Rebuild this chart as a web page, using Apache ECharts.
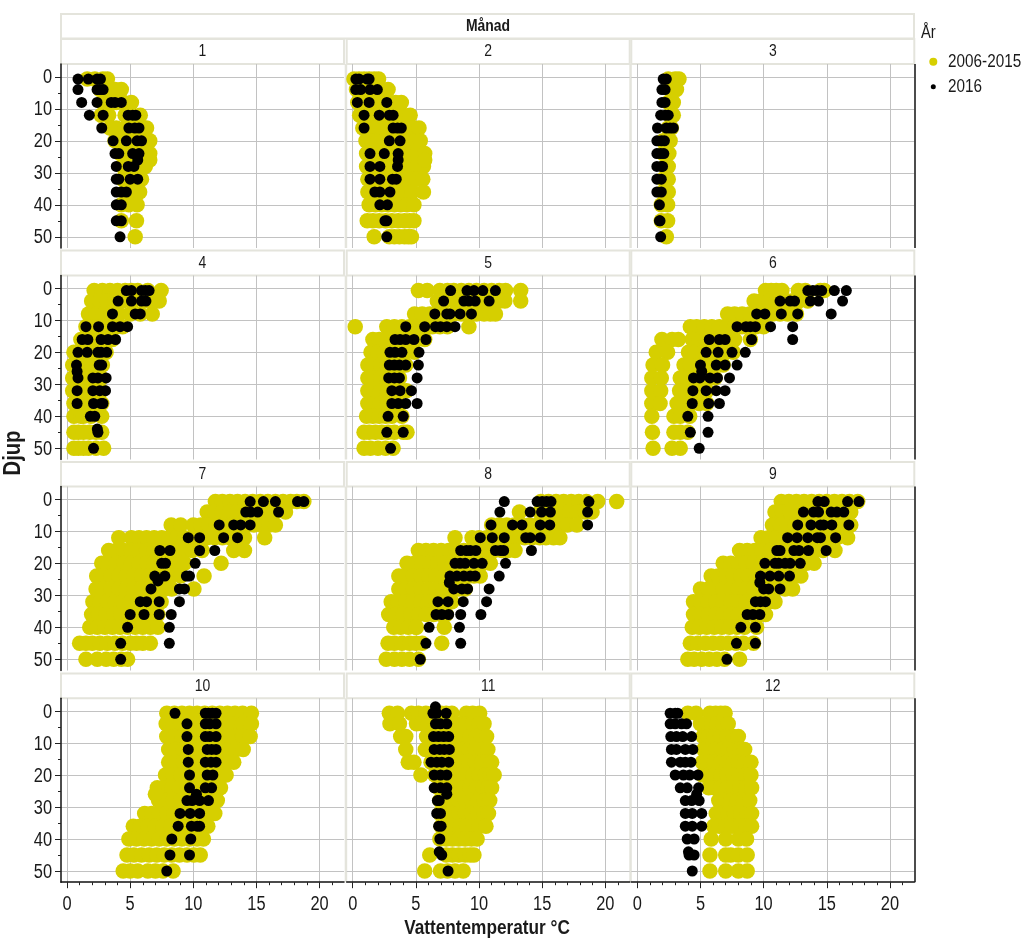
<!DOCTYPE html>
<html><head><meta charset="utf-8">
<style>html,body{margin:0;padding:0;background:#fff}#c{width:1024px;height:943px}</style>
<script src="https://cdn.jsdelivr.net/npm/echarts@6/dist/echarts.min.js"></script>
</head><body><div id="c"></div>
<script>
const depths=[0.7,4,8,12,16,20,24,28,32,36,40,45,50];
const xTicks=[0,5,10,15,20];
const yTicks=[0,10,20,30,40,50];
const xMinor=[1,2,3,4,6,7,8,9,11,12,13,14,16,17,18,19,21];
const yMinor=[5,15,25,35,45];
const months=['1','2','3','4','5','6','7','8','9','10','11','12'];
const seriesNames=['2006-2015','2016'];

const hist1=[[1.6,2.2,2.85,3.2],[2.6,3.1,3.8,4.3],[2.85,3.4,3.9,4.5,5.1],[2.7,3.3,4.6,5.2,5.8],[3.4,3.9,4.6,5.2,5.8,6.3],[3.8,4.4,5,5.5,6,6.55],[4.2,4.8,5.3,5.9,6.55],[4.4,4.9,5.3,5.8,6.2],[4.4,4.9,5.4,5.9],[4.6,5.2,5.75],[4.3,4.9,5.55],[4.3,5.5],[5.4]];
const now1=[[0.87,1.69,2.38,2.65],[0.87,2.38,2.6,2.86],[1.16,2.38,3.5,3.8,4.3],[1.77,2.86,4.84,5.2,5.45],[2.75,4.9,5.37,5.7],[3.65,4.7,5.55,5.9],[3.8,4.1,5.2,5.7],[3.9,4.85,5.3],[3.9,4.1,5,5.6],[3.9,4.3,4.7],[3.9,4.3],[3.9,4.3],[4.2]];
const hist2=[[0.1,0.5,0.9,1.3,1.7,2.05],[0.3,0.8,1.3,1.8,2.3,2.8],[0.4,0.9,1.4,1.9,2.4,2.9,3.4,3.85],[0.55,1,1.5,2,2.5,3,3.5,4,4.55],[0.8,1.3,1.8,2.3,2.8,3.3,3.8,4.3,4.8,5.25],[1.05,1.5,2,2.5,3,3.5,4,4.5,5,5.35],[1.1,1.6,2.1,2.6,3.1,3.6,4.1,4.6,5.1,5.7],[1.1,1.6,2.1,2.6,3.1,3.6,4.1,4.6,5.1,5.6],[1.2,1.7,2.2,2.7,3.2,3.7,4.2,4.7,5.1,5.55],[1.2,1.7,2.2,2.7,3.2,3.7,4.2,4.7,5.6],[1.3,1.8,2.3,2.8,3.3,3.8,4.3,4.85],[1.15,1.6,2.1,2.6,3.1,3.6,4.1,4.5,4.85],[1.7,2.9,3.3,3.7,4.1,4.4,4.65]];
const now2=[[0.25,0.5,1.15,1.3],[0.24,0.63,1.37,1.95],[0.37,1.3,2.7],[0.9,2.1,2.9,3.2],[0.9,3.2,3.55,3.85],[2.9,3.75],[1.37,2.5,3.6],[1.37,2.15,3.55],[1.37,2.15,3.15,3.45],[1.75,2.15,2.95],[2.15,2.75],[2.55,2.7],[2.7]];
const hist3=[[2.45,3,3.3],[2.6,3.1],[2.45,2.85],[2.6,2.85],[2.45,2.7],[2.05,2.6],[2.05,2.5],[2.2,2.45],[2.05,2.45],[2.05,2.45],[1.9,2.4],[1.9,2.4],[2.3]];
const now3=[[2.05,2.3],[1.95,2.2],[1.95,2.2],[1.85,2.2,2.45],[1.6,2.3,2.6,2.85],[1.55,1.9,2.15],[1.55,1.85,2.1],[1.55,1.9,2],[1.55,1.9],[1.55,1.9],[1.75],[1.75,1.8],[1.85]];
const hist4=[[2.15,2.8,3.4,4,4.6,5.1,5.6,6.4,7.45],[1.95,2.6,3.2,3.8,4.4,5.2,6.1,6.7,7.3],[1.7,2.3,2.9,3.5,4.1,5,5.8,6.75],[1.5,2.1,2.7,3.3,3.9,4.4],[1.1,1.6,2.2,2.8,3.3,3.6],[0.55,1.1,1.6,2.1,2.6,3.1],[0.45,1,1.5,2,2.4,2.8],[0.45,1,1.5,2,2.4,2.7],[0.45,0.9,1.5,2.1,2.7],[0.55,1.1,1.6,2.2,2.75],[0.55,1.1,1.3,1.9,2.75],[0.55,0.9,1.3,1.8,2.3,2.75],[0.55,0.9,1.3,1.7,2.3,2.9]];
const now4=[[4.7,5.1,5.9,6.2,6.5],[4.05,5.1,5.9,6.25],[3.6,5.4,5.8],[1.5,2.5,3.6,4.2,4.8],[1.2,1.65,2.7,3.25,3.85],[0.87,1.6,2.45,2.7,3.15],[0.75,2.55,2.75],[0.87,2.05,2.45,3.1],[0.8,2.05,2.6,3.05],[0.8,2.1,2.7,2.85],[1.85,2.2],[2.45],[2.1]];
const hist5=[[5.2,5.9,6.9,7.5,8,8.6,9.2,9.8,10.4,11,11.6,12.1,13.3],[6.7,7.3,8,8.6,9.2,9.8,10.4,11,11.6,12.05,13.3],[4.9,5.5,6.1,6.7,7.3,8,8.6,9.2,9.8,10.4,10.9,11.3],[0.2,2.7,3.3,3.9,4.5,5.1,5.7,6.3,6.9,7.5,9.2],[1.6,2.1,2.7,3.3,3.9,4.5,5.1,5.7],[1.45,2,2.5,3,3.6,4.2,4.9],[1.2,1.7,2.2,2.7,3.2,3.7,4.2],[1.2,1.7,2.2,2.7,3.2,3.7],[1.2,1.7,2.2,2.7,3.2,3.7,4.25],[1.2,1.7,2.2,2.7,3.1,3.6],[1.1,1.6,2.1,2.6,3.1,3.9],[0.9,1.3,1.8,2.3,2.8,3.3,4,4.3],[0.9,1.4,2,2.6,3.2]];
const now5=[[7.75,9.05,9.6,10.3,11.3],[7.2,8.8,9.2,9.7,10.8],[6.5,7.45,7.7,8.5,9.4],[4.2,5.7,6.55,6.95,7.45,8.1],[3.35,3.75,4.2,4.85,5.8],[2.95,3.35,3.9,5.25],[2.9,3.3,3.7,4.2,5.2],[2.85,3.3,3.7,5.1],[3.1,3.75,4.65],[3.1,3.6,4.2,5.1],[2.8,4],[2.7,4],[3]];
const hist6=[[10.15,10.6,11,11.45,12.75,13.3,14.5,14.8],[9.25,9.8,10.4,11,11.6,12.2,12.8,13.5],[7.15,7.7,8.3,8.9,9.5,10.1,10.7,11.3,11.9,12.6],[4.2,4.7,5.3,5.9,6.5,7.1,7.7,8.3,8.9,9.4,10],[1.95,2.75,3.25,4.35,4.9,5.4,6,6.6,7.2,7.7,8.95],[1.5,2.4,4.05,4.6,5.2,5.8,6.4,7,7.6],[1.25,2,3.7,4.2,4.8,5.4,6,6.8],[1.15,1.9,3.4,3.9,4.5,5.1,5.6,6.15],[1.15,1.85,3.35,3.9,4.4,5,5.5],[1.15,1.8,3.15,3.7,4.3,4.9,5.5],[1.15,2.9,3.4,4.15],[1.2,2.9,3.4,4],[1.25,2.75,3.4]];
const now6=[[13.5,13.9,14.25,14.6,15.6,16.55],[11.3,12.1,12.45,13.7,14.35,16.25],[9.45,10.1,11.4,12.7,15.35],[7.9,8.6,8.95,9.35,10.55,12.3],[5.7,6.5,6.95,9.05,12.3],[5.45,6.4,7.5,8.55],[5,6.25,6.95,7.9],[4.45,4.95,5.75,6.35,7.3],[4.4,5.45,6.25,6.95],[4.35,5.65,6.5],[4,5.6],[4.2,5.6],[4.9]];
const hist7=[[11.75,12.3,12.9,13.5,14.1,14.7,15.3,15.9,16.5,17.1,17.7,18.2,18.75],[11.1,11.7,12.3,12.9,13.5,14.1,14.7,15.3,15.9,16.5,17.3],[8.25,9,10,10.6,11.2,11.8,12.4,13,13.6,14.2,14.8,15.4,16,16.5],[4.1,5.1,5.7,6.3,6.9,7.5,8.1,8.7,9.3,9.9,10.5,11.1,11.7,12.3,12.9,13.5,14.05,15.65],[3.3,3.9,4.5,5.1,5.7,6.3,6.9,7.5,8.1,8.7,9.3,9.9,10.7,13.2,14.05],[2.75,3.3,3.9,4.5,5.1,5.7,6.3,6.9,7.5,8.1,8.7,9.3,12.2],[2.35,2.9,3.5,4.1,4.7,5.3,5.9,6.5,7.1,7.7,8.3,9,10.85],[2.3,2.9,3.5,4.1,4.7,5.3,5.9,6.5,7.1,7.7,8.3,10.05],[2.05,2.6,3.2,3.8,4.4,5,5.6,6.2,6.8,7.45],[1.95,2.5,3.1,3.7,4.3,4.9,5.5,6.1,6.7,7.2],[1.8,2.4,3,3.6,4.2,4.8,5.4,6,6.6,7.2],[1,1.5,2,2.6,3.2,3.8,4.4,5,5.5,6,6.6],[1.5,2.4,3.1,3.7,4.3,4.8]];
const now7=[[14.5,15.55,16.5,18.25,18.75],[14.15,14.55,15.1,16.75],[12.05,13.2,13.75,14.5],[9.6,10.5,12.4,13.5],[7.35,8.15,10.5,11.7],[7.5,7.8,10.15],[6.95,7.75,9.45,9.7],[6.65,8.9,9.3],[5.8,6.3,7.3,8.9],[5,6.1,7.3,8.25],[4.8,8.1],[4.25,8.1],[4.25]];
const hist8=[[14.9,15.5,16.1,16.7,17.3,17.9,18.5,19.4,20.9],[13.2,14.8,15.4,16,16.6,17.2,17.8,18.4,18.95],[11,11.6,12.2,12.8,13.4,14,14.6,15.2,15.8,16.4,17,17.75],[8.1,9.45,10,10.6,11.2,11.8,12.4,13,13.6,14.2,14.8,15.3,15.9,16.4],[5.2,5.8,6.4,7,7.6,8.2,8.8,9.4,10,10.6,11.2,11.8,12.3,12.85],[4.3,4.9,5.5,6.1,6.7,7.3,7.9,8.5,9.1,9.7,10.3,10.9],[3.65,4.2,4.8,5.4,6,6.6,7.2,7.8,8.4,9,9.6,10.1],[3.65,4.2,4.8,5.4,6,6.6,7.2,7.8,8.4,8.9],[3.05,3.6,4.2,4.8,5.4,6,6.6,7.2,7.85],[2.85,3.4,4,4.6,5.2,5.8,6.4,7,7.4],[3.25,3.8,4.4,5,5.05,7.25],[2.8,3.3,3.9,4.5,5,5.5,7.05],[2.65,3.3,3.9,4.5,5.2]];
const now8=[[12,14.6,15,15.35,15.7,18.7],[11.65,14.05,14.95,15.65,18.6],[10.95,12.65,13.4,14.85,15.6,18.6],[10.1,11.05,12,13.7,14.05,14.85],[8.55,9,9.3,9.75,11.3,11.7,11.95,14.15],[8.1,8.5,8.9,9.6,10.25,12.1],[7.7,8.25,8.8,9.3,9.7,11.6],[8,8.65,9.1,10.8],[6.75,7.55,8.75,10.6],[6.6,7.05,7.6,8.55,10.15],[6.05,8.45],[5.8,8.55],[5.35]];
const hist9=[[11.4,12,12.6,13.2,13.8,14.4,15,15.6,16.2,16.8,17.45],[10.9,11.5,12.1,12.7,13.3,13.9,14.5,15.1,15.7,16.3,16.9],[10.7,11.3,11.9,12.5,13.1,13.7,14.3,14.9,15.5,16.2,16.9],[9.8,10.4,11,11.6,12.2,12.8,13.4,14,14.6,15.2,15.8,16.65],[8.1,8.7,9.3,9.9,10.5,11.1,11.7,12.3,12.9,13.5,14.1,14.7,15.65],[6.8,7.4,8,8.6,9.2,9.8,10.4,11,11.6,12.2,12.8,13.4,14],[5.85,6.4,7,7.6,8.2,8.8,9.4,10,10.6,11.2,11.8,12.4,12.95],[5,5.6,6.2,6.8,7.4,8,8.6,9.2,9.8,10.4,11,11.7,12.3],[4.45,5,5.6,6.2,6.8,7.4,8,8.6,9.2,9.8,10.4,10.9],[4.45,5,5.6,6.2,6.8,7.4,8,8.6,9.2,9.7,10.15],[4.35,4.9,5.5,6.1,6.7,7.3,7.9,8.5,9.45],[4.2,4.8,5.4,6,6.6,7.2,7.8,8.4,9.2],[4,4.5,5.1,5.7,6.3,6.9,8.1]];
const now9=[[14.3,14.8,16.65,17.55],[13.15,13.95,14.35,15.35,15.8,16.35],[12.7,13.75,14.5,14.75,15.4,16.75],[11.9,12.65,13.5,14.25,14.5,15.7],[11.05,11.3,12.4,12.8,13.55,14.95],[10.1,10.9,11.2,11.7,12.1,12.9],[9.75,10.5,11.2,12.05],[10,10.4,11.3],[9.35,9.75,10.15],[8.7,9.15,9.7],[8.2,9.35],[7.85,9.35],[7.1]];
const hist10=[[7.9,8.5,9.1,9.7,10.3,10.9,11.5,12.1,12.7,13.3,13.9,14.6],[7.85,8.4,9,9.6,10.2,10.8,11.4,12,12.6,13.2,13.9,14.6],[7.9,8.5,9.1,9.7,10.3,10.9,11.5,12.1,12.7,13.3,13.9,14.5],[8.05,8.6,9.2,9.8,10.4,11,11.6,12.2,12.8,13.4,13.95],[8.05,8.6,9.2,9.8,10.4,11,11.6,12.2,12.7,13.2],[7.8,8.4,9,9.6,10.2,10.8,11.4,12,12.6],[7.15,7.7,8.3,8.9,9.5,10.1,10.7,11.3,11.8,12.15],[7.25,7.8,8.4,9,9.6,10.2,10.8,11.4,11.9],[6.15,6.7,7.3,7.9,8.5,9.1,9.7,10.3,10.9,11.7],[5.25,5.8,6.4,7,7.6,8.2,8.8,9.4,10,10.6,11.15],[4.9,5.5,6.1,6.7,7.3,7.9,8.5,9.1,9.7,10.3,10.8],[4.75,5.3,5.9,6.5,7.1,7.7,8.3,8.9,9.5,10.05,10.55],[4.45,5,5.6,6.4,7,7.6,8.4]];
const now10=[[8.55,10.95,11.2,11.5,11.8],[9.5,10.95,11.3,11.8],[9.5,10.95,11.3,11.8],[9.6,11.1,11.45,11.8],[9.6,10.95,11.4,11.8],[9.7,11.1,11.55],[9.7,10.95,11.45],[9.5,9.9,10.5,11.2],[8.95,9.75,10.5],[8.8,9.85,10.3,10.5],[8.3,9.8],[8.15,9.7],[7.9]];
const hist11=[[2.9,3.55,4.65,5.2,5.8,6.4,7,7.4,7.85,9,9.5,10.05],[2.95,3.7,5.05,5.5,6,6.5,7,7.5,8,8.5,9,9.5,10,10.4],[3.8,4.2,5.85,6.3,6.8,7.3,7.8,8.3,8.8,9.3,9.8,10.2,10.6],[4.2,5.75,6.2,6.7,7.2,7.7,8.2,8.7,9.2,9.7,10.2,10.7],[4.4,4.85,6.2,6.7,7.2,7.7,8.2,8.7,9.2,9.7,10.2,10.6,11],[5.4,6.5,7,7.5,8,8.5,9,9.5,10,10.5,10.9,11.2],[6.8,7.3,7.8,8.3,8.8,9.3,9.8,10.3,10.7,11],[6.9,7.4,7.9,8.4,8.9,9.4,9.9,10.4,10.85],[6.9,7.4,7.9,8.4,8.9,9.4,9.9,10.4,10.75],[7,7.5,8,8.5,9,9.5,10,10.55],[6.9,7.4,7.9,8.4,8.9,9.4,9.85],[6.1,7.4,7.9,8.4,8.9,9.3,9.6],[5.7,6.95,7.5,8.1,8.75]];
const now11=[[6.35,6.65,7.4],[6.55,6.95,7.45],[6.4,6.8,7.2,7.6],[6.45,6.9,7.25,7.65],[6.2,6.65,7.05,7.6],[6.45,6.95,7.45],[6.45,6.95,7.45],[6.7,6.85],[6.65,6.95],[6.8,7],[6.9],[7.05],[7.55]];
const hist12=[[4,4.65,5.75,6.2,6.6,6.95],[5,5.4,5.9,6.3,6.8,7.2],[5.2,5.6,6.1,6.6,7.1,7.6,8],[5.25,5.7,6.2,6.7,7.2,7.7,8.1,8.5],[5.15,5.6,6.1,6.6,7.1,7.6,8,8.5,9],[5.15,5.6,6.1,6.6,7.1,7.6,8.1,8.6,9],[5.65,6.1,6.6,7.1,7.6,8.1,8.6,9.05],[6.45,6.9,7.4,7.9,8.4,8.9],[6.25,6.7,7.2,7.7,8.2,8.7,9.05],[6.05,6.5,7,7.5,8.1,8.6,9.05],[5.85,7,8,8.65],[5.75,7,7.4,8,8.7],[5.75,7,8,8.7]];
const now12=[[2.6,3,3.2],[2.6,3,3.5,3.9],[2.65,3.1,3.6,4.3],[2.7,3.1,3.8,4.4],[2.7,3.4,3.8,4.25],[3,3.65,4.15,4.8],[3.4,3.95,4.85],[3.8,4.3,4.9],[3.8,4.35,5.1],[3.8,4.35,5.1],[3.95,4.5],[4.1,4.5],[4.35]];
// readings that sit off the regular depth levels: [month, temperature, depth]
const offLevelHist=[[1,6.55,26],[2,5.7,26],[10,7,26]];
const offLevelNow=[[1,5.6,26],[2,3.6,26],[4,0.8,26],[4,2.4,44],[6,5.1,26],[7,7.2,25.5],[8,7.65,26],[9,9.7,26],[10,10.25,26],[11,6.55,-1.3],[11,7.45,26],[11,6.85,44],[12,4.7,26],[12,4.05,44]];

const hist=[hist1,hist2,hist3,hist4,hist5,hist6,hist7,hist8,hist9,hist10,hist11,hist12];
const now=[now1,now2,now3,now4,now5,now6,now7,now8,now9,now10,now11,now12];

const FONT='"Liberation Sans",Arial,sans-serif';
const INK='#1a1a1a';
const YEL='#D6CF00', GRID='#C2C2C2', STRIP='#E4E4DC';
const colLeft=[61,346.7,631.3], plotW=283;
const rowTop=[64,275.5,486.5,698.2], plotH=184;
const stripTop=[39,250.5,462,673.5];
const xMin=-0.475,xMax=21.93,yMin=-4,yMax=53.5;
const NARROW=0.82; // the reference uses a condensed face; squeeze Liberation Sans to match

const pts=(rows,month,off)=>{
  const out=[];
  rows.forEach((vals,i)=>vals.forEach(t=>out.push([t,depths[i]])));
  off.filter(o=>o[0]===month).forEach(o=>out.push([o[1],o[2]]));
  return out;
};
const label=(text,x,y,font,align,extra)=>Object.assign({type:'text',x,y,scaleX:NARROW,silent:true,z:20,
  style:{text,font:font+' '+FONT,fill:INK,textAlign:align||'center',textVerticalAlign:'middle'}},extra||{});

const grid=[],xAxis=[],yAxis=[],series=[],graphic=[];
graphic.push({type:'rect',shape:{x:61,y:14,width:853,height:24.5},style:{fill:'#fff',stroke:STRIP,lineWidth:2},silent:true});
graphic.push(label('Månad',488,26,'bold 17px'));
months.forEach((m,k)=>{
  const c=k%3,r=Math.floor(k/3),L=colLeft[c],T=rowTop[r];
  grid.push({left:L,top:T,width:plotW,height:plotH});
  const bottom=r===3,left=c===0;
  const gi=grid.length-1;
  xAxis.push({type:'value',gridIndex:gi,min:xMin,max:xMax,position:'bottom',
    axisLine:{show:bottom,onZero:false,lineStyle:{color:'#111',width:1.5}},
    axisTick:{show:bottom,length:6,customValues:xTicks,lineStyle:{color:'#222',width:1}},
    axisLabel:{show:false},
    splitLine:{show:true,lineStyle:{color:GRID,width:1}}});
  const xMain=xAxis.length-1;
  xAxis.push({type:'value',gridIndex:gi,min:xMin,max:xMax,position:'bottom',
    axisLine:{show:false,onZero:false},axisLabel:{show:false},splitLine:{show:false},
    axisTick:{show:bottom,length:3,customValues:xMinor,lineStyle:{color:'#222',width:1}}});
  yAxis.push({type:'value',gridIndex:gi,inverse:true,min:yMin,max:yMax,position:'left',
    axisLine:{show:left,onZero:false,lineStyle:{color:'#111',width:1.5}},
    axisTick:{show:left,length:6,customValues:yTicks,lineStyle:{color:'#222',width:1}},
    axisLabel:{show:false},
    splitLine:{show:true,lineStyle:{color:GRID,width:1}}});
  const yMain=yAxis.length-1;
  yAxis.push({type:'value',gridIndex:gi,inverse:true,min:yMin,max:yMax,position:'left',
    axisLine:{show:false,onZero:false},axisLabel:{show:false},splitLine:{show:false},
    axisTick:{show:left,length:3,customValues:yMinor,lineStyle:{color:'#222',width:1}}});
  series.push({name:seriesNames[0],type:'scatter',xAxisIndex:xMain,yAxisIndex:yMain,symbol:'circle',symbolSize:15.5,z:3,
    itemStyle:{color:YEL,opacity:1},data:pts(hist[k],k+1,offLevelHist)});
  series.push({name:seriesNames[1],type:'scatter',xAxisIndex:xMain,yAxisIndex:yMain,symbol:'circle',symbolSize:11,z:4,
    itemStyle:{color:'#000',opacity:1},data:pts(now[k],k+1,offLevelNow)});
  graphic.push({type:'rect',shape:{x:L,y:stripTop[r],width:plotW,height:T-stripTop[r]},style:{fill:'#fff',stroke:STRIP,lineWidth:2},silent:true});
  graphic.push(label(m,L+plotW/2,stripTop[r]+(T-stripTop[r])/2,'17px'));
  if(c===2) graphic.push({type:'line',shape:{x1:915,y1:T,x2:915,y2:T+plotH},style:{stroke:'#111',lineWidth:1.5},silent:true,z:10});
  if(c>0) graphic.push({type:'rect',shape:{x:L-2,y:T,width:2.5,height:plotH},style:{fill:STRIP},silent:true});
});
graphic.push(label('Djup',14,453,'bold 23px','center',{rotation:Math.PI/2,scaleX:0.88}));
graphic.push(label('Vattentemperatur °C',487,928,'bold 21px'));
graphic.push(label('År',921,33,'18px','left'));
graphic.push(label(seriesNames[0],948,62,'18px','left',{scaleX:0.85}));
graphic.push(label(seriesNames[1],948,87,'18px','left',{scaleX:0.85}));

const option={animation:false,backgroundColor:'#fff',grid,xAxis,yAxis,series,graphic,
  legend:[
   {data:[seriesNames[0]],left:929.3,top:57.7,itemWidth:8,itemHeight:8,icon:'circle',selectedMode:false,padding:0,formatter:()=>'',textStyle:{fontSize:1}},
   {data:[seriesNames[1]],left:930.8,top:84.2,itemWidth:5,itemHeight:5,icon:'circle',selectedMode:false,padding:0,formatter:()=>'',textStyle:{fontSize:1}}
  ]};
const chart=echarts.init(document.getElementById('c'),null,{renderer:'canvas',width:1024,height:943});
chart.setOption(option);
// tick labels, placed through the chart's own scales
const tickLabels=[];
months.forEach((m,k)=>{
  const c=k%3,r=Math.floor(k/3);
  if(r===3) xTicks.forEach(v=>tickLabels.push(label(String(v),chart.convertToPixel({xAxisIndex:2*k},v),904,'20px')));
  if(c===0) yTicks.forEach(v=>tickLabels.push(label(String(v),52,chart.convertToPixel({yAxisIndex:2*k},v)+1,'20px','right')));
});
chart.setOption({graphic:graphic.concat(tickLabels)});
</script></body></html>
